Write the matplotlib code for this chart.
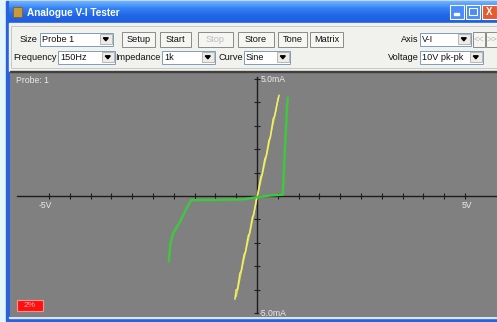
import numpy as np
import matplotlib
matplotlib.use("Agg")
import matplotlib.pyplot as plt
from matplotlib.patches import Rectangle, Polygon

plt.rcParams['font.family'] = ['Liberation Sans', 'DejaVu Sans']

# V-I trace data (volts, milliamps)
yellow_v = [-0.53, -0.50, -0.47, -0.41, -0.38, -0.31, -0.28, -0.21, -0.18, -0.11, -0.08, -0.01,
            0.02, 0.09, 0.12, 0.19, 0.22, 0.29, 0.32, 0.39, 0.42, 0.49, 0.53]
yellow_i = [-4.4, -4.0, -4.0, -3.3, -3.2, -2.5, -2.4, -1.7, -1.6, -0.9, -0.8, -0.1,
            0.1, 0.8, 0.9, 1.6, 1.7, 2.4, 2.5, 3.3, 3.4, 4.0, 4.3]
yellow_v2 = [-0.50, -0.44, -0.35, -0.25, -0.15, -0.05, 0.05, 0.15, 0.25, 0.35, 0.45, 0.51]
yellow_i2 = [-4.3, -3.8, -3.0, -2.2, -1.4, -0.5, 0.3, 1.1, 1.9, 2.8, 3.6, 4.2]

green_v = [-2.12, -2.10, -2.09, -2.02, -1.85, -1.68, -1.58, -1.20, -0.80, -0.30, 0.00,
           0.30, 0.62, 0.64, 0.67, 0.70, 0.72, 0.74]
green_i = [-2.8, -2.4, -2.1, -1.6, -1.1, -0.47, -0.18, -0.17, -0.16, -0.14, -0.05,
           0.02, 0.06, 0.8, 2.0, 3.0, 3.8, 4.2]

x_ticks = np.arange(-5, 5.01, 0.5)
y_ticks = np.arange(-5, 5.01, 1.0)

fig = plt.figure(figsize=(4.97, 3.22), dpi=100)

# window chrome drawn in pixel coords
ui = fig.add_axes([0, 0, 1, 1])
ui.set_xlim(0, 497)
ui.set_ylim(322, 0)
ui.axis('off')

ui.add_patch(Rectangle((0, 0), 497, 322, color='#e4f6fc'))
ui.add_patch(Rectangle((6, 1), 491, 320, color='#2a62dc'))
# title bar
grad = np.linspace(0, 1, 22).reshape(-1, 1)
ui.imshow(grad, extent=(9, 497, 23, 1), cmap=matplotlib.colors.LinearSegmentedColormap.from_list(
    'tb', ['#6fb0ff', '#3282f4', '#2266e6', '#1d5ee0']), aspect='auto', zorder=1)
ui.add_patch(Rectangle((13, 7), 9, 10, facecolor='#c89a3c', edgecolor='#806020', lw=0.6, zorder=2))
ui.text(27, 12.5, 'Analogue V-I Tester', color='white', fontsize=7.2, fontweight='bold',
        va='center', ha='left', zorder=3)
ui.add_patch(Rectangle((450, 5), 14, 14, facecolor='#4a8cf8', edgecolor='white', lw=0.8, zorder=2))
ui.add_patch(Rectangle((454, 13), 5, 2, color='white', zorder=3))
ui.add_patch(Rectangle((466, 5), 14, 14, facecolor='#4a8cf8', edgecolor='white', lw=0.8, zorder=2))
ui.add_patch(Rectangle((469, 8), 8, 7, facecolor='none', edgecolor='white', lw=0.8, zorder=3))
ui.add_patch(Rectangle((482, 5), 15, 14, facecolor='#e65a30', edgecolor='white', lw=0.8, zorder=2))
ui.text(489.5, 12, 'X', color='white', fontsize=7, fontweight='bold', ha='center', va='center', zorder=3)

# toolbar panel
ui.add_patch(Rectangle((9, 23), 488, 48, color='#f1f1ee', zorder=1))
ui.add_patch(Rectangle((11, 26), 486, 42, facecolor='none', edgecolor='#c8c8c4', lw=0.7, zorder=2))

def label(x, y, s, ha='right'):
    ui.text(x, y, s, fontsize=6.6, ha=ha, va='center', color='#101010', zorder=4)

def button(x0, x1, y0, y1, s, enabled=True):
    ui.add_patch(Rectangle((x0, y0), x1 - x0, y1 - y0, facecolor='#f5f5f1',
                           edgecolor='#8a8a8a', lw=0.7, zorder=3))
    ui.text((x0 + x1) / 2, (y0 + y1) / 2, s, fontsize=6.6, ha='center', va='center',
            color='#101010' if enabled else '#bcbcbc', zorder=4)

def combo(x0, x1, y0, y1, s):
    ui.add_patch(Rectangle((x0, y0), x1 - x0, y1 - y0, facecolor='white',
                           edgecolor='#7f9db9', lw=0.7, zorder=3))
    ui.add_patch(Rectangle((x1 - 13, y0 + 1.5), 11.5, y1 - y0 - 3, facecolor='#ecebe6',
                           edgecolor='#a0a0a0', lw=0.5, zorder=4))
    cx, cy = x1 - 7.2, (y0 + y1) / 2
    ui.add_patch(Polygon([(cx - 2.5, cy - 1.2), (cx + 2.5, cy - 1.2), (cx, cy + 1.8)],
                         color='black', zorder=5))
    ui.text(x0 + 2, (y0 + y1) / 2, s, fontsize=6.6, ha='left', va='center', color='#101010', zorder=4)

# row 1
label(37, 39, 'Size')
combo(40, 113, 32.5, 45.5, 'Probe 1')
button(122, 155, 31.5, 46.5, 'Setup')
button(160, 191, 31.5, 46.5, 'Start')
button(198, 233, 31.5, 46.5, 'Stop', enabled=False)
button(238, 274, 31.5, 46.5, 'Store')
button(278, 307, 31.5, 46.5, 'Tone')
button(310, 343, 31.5, 46.5, 'Matrix')
label(418, 39, 'Axis')
combo(420, 471, 32.5, 45.5, 'V-I')
button(473, 485, 31.5, 46.5, '<<', enabled=False)
button(486, 497, 31.5, 46.5, '>>', enabled=False)

# row 2
label(57, 57, 'Frequency')
combo(58, 115, 50.5, 63.5, '150Hz')
label(161, 57, 'Impedance')
combo(162, 215, 50.5, 63.5, '1k')
label(243, 57, 'Curve')
combo(244, 290, 50.5, 63.5, 'Sine')
label(419, 57, 'Voltage')
combo(420, 483, 50.5, 63.5, '10V pk-pk')

# bottom frame line
ui.add_patch(Rectangle((9, 317), 488, 1.2, color='#d8e4f4', zorder=1))

# plot area: 0V at x=257px, 0mA at y=196px, 41.6 px/V, 23.4 px/mA
left_px, right_px, top_px, bot_px = 10, 497, 72, 317
px_v, px_ma, x0_px, y0_px = 41.6, 23.4, 257, 196
ax = fig.add_axes([left_px / 497, (322 - bot_px) / 322,
                   (right_px - left_px) / 497, (bot_px - top_px) / 322])
ax.set_facecolor('#808080')
ax.set_xlim((left_px - x0_px) / px_v, (right_px - x0_px) / px_v)
ax.set_ylim((y0_px - bot_px) / px_ma, (y0_px - top_px) / px_ma)

for side in ['top', 'right']:
    ax.spines[side].set_visible(False)
ax.spines['left'].set_position(('data', 0))
ax.spines['bottom'].set_position(('data', 0))
ax.spines['left'].set_bounds(-5, 5.1)
ax.spines['bottom'].set_bounds(-5.77, 5.75)
for side in ['left', 'bottom']:
    ax.spines[side].set_color('#1e1e1e')
    ax.spines[side].set_linewidth(1.0)
ax.set_xticks(x_ticks)
ax.set_yticks(y_ticks)
ax.tick_params(direction='inout', length=4, width=0.8, color='#1e1e1e',
               labelbottom=False, labelleft=False)

ax.plot(yellow_v2, yellow_i2, color='#d8d84a', lw=1.0, zorder=3)
ax.plot(yellow_v, yellow_i, color='#f0f06a', lw=1.1, zorder=4)
ax.plot(green_v, green_i, color='#40c640', lw=1.8, solid_capstyle='round', zorder=5)

txt = dict(color='#ececec', fontsize=6.2, zorder=6)
ax.text(0.012, 0.985, 'Probe: 1', transform=ax.transAxes, ha='left', va='top', **txt)
ax.text(0.08, 5.0, '5.0mA', ha='left', va='center', **txt)
ax.text(0.05, -5.02, '-5.0mA', ha='left', va='center', **txt)
ax.text(-5.1, -0.2, '-5V', ha='center', va='top', **txt)
ax.text(5.05, -0.2, '5V', ha='center', va='top', **txt)

# overlay on top of the plot: status box and panel edge
ov = fig.add_axes([0, 0, 1, 1], facecolor='none')
ov.set_xlim(0, 497)
ov.set_ylim(322, 0)
ov.axis('off')
ov.add_patch(Rectangle((17, 300), 26, 11, facecolor='#ff1010', edgecolor='#ff9090', lw=0.8))
ov.text(30, 305.5, '2%', color='#ffb0b0', fontsize=6, ha='center', va='center')
ov.add_patch(Rectangle((10, 71), 487, 1.2, color='#404040'))

fig.savefig('out.png', dpi=100)
